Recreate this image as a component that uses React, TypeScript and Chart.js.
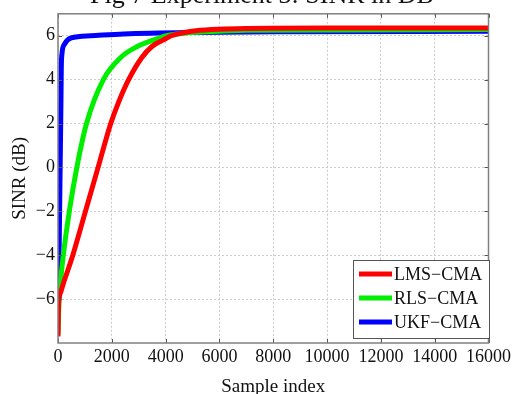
import React, { useEffect, useRef } from "react";
import { Chart, registerables } from "chart.js";

Chart.register(...registerables);

const titleText = "Fig 7 Experiment 3: SINR in DB";
const xTitle = "Sample index";
const yTitle = "SINR (dB)";
const seriesLabels = ["LMS\u2212CMA", "RLS\u2212CMA", "UKF\u2212CMA"];
const seriesColors = ["#ff0000", "#00ee00", "#0000ff"];

const xTicks = [0, 2000, 4000, 6000, 8000, 10000, 12000, 14000, 16000];
const yTicks = [-6, -4, -2, 0, 2, 4, 6];

const lmsIdx = [0, 15, 50, 110, 197, 550, 1020, 1490, 1960, 2260, 2625, 3110, 3480, 3900, 4210, 4700, 5130, 6000, 7000, 10000, 16000];
const lmsSinr = [-7.7, -6.5, -5.9, -5.65, -5.3, -4.0, -2.0, 0.0, 2.0, 3.0, 4.0, 5.0, 5.5, 5.8, 6.0, 6.15, 6.23, 6.3, 6.33, 6.35, 6.35];

const rlsIdx = [0, 20, 50, 110, 197, 420, 700, 1060, 1685, 2320, 2930, 3540, 4030, 4600, 5500, 7000, 16000];
const rlsSinr = [-7.6, -6.8, -5.8, -5.0, -4.0, -2.0, 0.0, 2.0, 4.0, 5.0, 5.5, 5.8, 6.0, 6.1, 6.18, 6.25, 6.28];

const ukfIdx = [0, 30, 60, 90, 110, 122, 150, 245, 490, 1220, 2440, 5130, 8000, 16000];
const ukfSinr = [-7.0, -5.0, -2.0, 1.0, 3.0, 4.5, 5.2, 5.62, 5.9, 6.0, 6.08, 6.15, 6.18, 6.2];

const xs = [lmsIdx, rlsIdx, ukfIdx];
const ys = [lmsSinr, rlsSinr, ukfSinr];

const FONT = "'Liberation Serif', 'Times New Roman', serif";

const framePlugin = {
  id: "frame",
  afterDraw(chart: any) {
    const { ctx, chartArea: a, scales } = chart;
    ctx.save();
    // inward tick marks
    ctx.strokeStyle = "#555";
    ctx.lineWidth = 1;
    ctx.beginPath();
    xTicks.forEach((v) => {
      const x = Math.round(scales.x.getPixelForValue(v)) + 0.5;
      ctx.moveTo(x, a.bottom);
      ctx.lineTo(x, a.bottom - 4);
      ctx.moveTo(x, a.top);
      ctx.lineTo(x, a.top + 4);
    });
    yTicks.forEach((v) => {
      const y = Math.round(scales.y.getPixelForValue(v)) + 0.5;
      ctx.moveTo(a.left, y);
      ctx.lineTo(a.left + 4, y);
      ctx.moveTo(a.right, y);
      ctx.lineTo(a.right - 4, y);
    });
    ctx.stroke();
    // box
    ctx.strokeStyle = "#808080";
    ctx.lineWidth = 1.5;
    ctx.strokeRect(a.left, a.top, a.right - a.left, a.bottom - a.top);

    // title (clipped at the top)
    ctx.fillStyle = "#111";
    ctx.font = `26px ${FONT}`;
    ctx.textAlign = "center";
    ctx.textBaseline = "alphabetic";
    ctx.fillText(titleText, 262, 3);

    // legend
    const lx = 353, ly = 260, lw = 136, lh = 78;
    ctx.fillStyle = "#ffffff";
    ctx.fillRect(lx, ly, lw, lh);
    ctx.strokeStyle = "#555";
    ctx.lineWidth = 1;
    ctx.strokeRect(lx + 0.5, ly + 0.5, lw, lh);
    const rows = [274, 298, 322];
    chart.data.datasets.forEach((ds: any, i: number) => {
      const y = rows[i];
      ctx.strokeStyle = ds.borderColor;
      ctx.lineWidth = 5;
      ctx.beginPath();
      ctx.moveTo(359, y);
      ctx.lineTo(392, y);
      ctx.stroke();
      ctx.fillStyle = "#111";
      ctx.font = `18px ${FONT}`;
      ctx.textAlign = "left";
      ctx.textBaseline = "middle";
      ctx.fillText(ds.label, 394, y + 1);
    });
    ctx.restore();
  },
};

export default function App() {
  const ref = useRef<HTMLCanvasElement | null>(null);

  useEffect(() => {
    if (!ref.current) return;
    const datasets = seriesLabels.map((label, i) => ({
      label,
      data: xs[i].map((x, j) => ({ x, y: ys[i][j] })),
      borderColor: seriesColors[i],
      backgroundColor: seriesColors[i],
      borderWidth: 5,
      pointRadius: 0,
      cubicInterpolationMode: "monotone" as const,
      fill: false,
    }));
    const chart = new Chart(ref.current, {
      type: "line",
      data: { datasets },
      options: {
        responsive: false,
        animation: false,
        layout: { padding: { top: 13, right: 21, left: 0, bottom: 0 } },
        plugins: { legend: { display: false }, tooltip: { enabled: false }, title: { display: false } },
        scales: {
          x: {
            type: "linear",
            min: 0,
            max: 16000,
            afterFit: (s: any) => { s.height = 51; },
            afterBuildTicks: (s: any) => { s.ticks = xTicks.map((v) => ({ value: v })); },
            grid: { color: "#cccccc", lineWidth: 1, drawTicks: false },
            border: { display: false, dash: [2, 2] },
            ticks: {
              padding: 3,
              color: "#111",
              font: { family: FONT, size: 18 },
              maxRotation: 0,
              autoSkip: false,
              callback: (v: any) => String(v),
            },
            title: {
              display: true,
              text: xTitle,
              color: "#111",
              font: { family: FONT, size: 19, lineHeight: 1 },
              padding: { top: 0, bottom: -2.5 },
            },
          },
          y: {
            type: "linear",
            min: -8,
            max: 7,
            afterFit: (s: any) => { s.width = 58; },
            afterBuildTicks: (s: any) => { s.ticks = yTicks.map((v) => ({ value: v })); },
            grid: { color: "#cccccc", lineWidth: 1, drawTicks: false },
            border: { display: false, dash: [2, 2] },
            ticks: {
              padding: 3,
              color: "#111",
              font: { family: FONT, size: 18 },
              autoSkip: false,
              callback: (v: any) => (v < 0 ? "\u2212" + Math.abs(v) : String(v)),
            },
            title: {
              display: true,
              text: yTitle,
              color: "#111",
              font: { family: FONT, size: 19, lineHeight: 1 },
              padding: { top: 11, bottom: 0 },
            },
          },
        },
      },
      plugins: [framePlugin],
    });
    return () => chart.destroy();
  }, []);

  return (
    <div style={{ position: "fixed", left: 0, top: 0, width: 514, height: 394, background: "#fff" }}>
      <canvas ref={ref} width={514} height={394} style={{ display: "block" }} />
    </div>
  );
}
